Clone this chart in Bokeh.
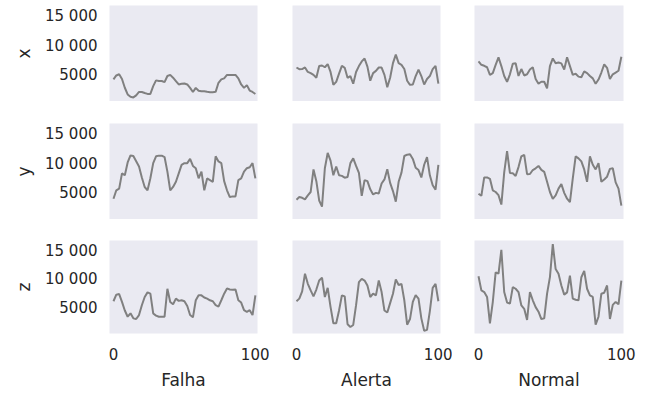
from bokeh.plotting import figure
from bokeh.layouts import gridplot
from bokeh.models import Range1d, FixedTicker
from bokeh.embed import file_html
from bokeh.resources import INLINE

# ---- data -------------------------------------------------------------
t = list(range(0, 101, 2))
columns = ["Falha", "Alerta", "Normal"]
rows = ["x", "y", "z"]

x_falha = [4230, 4900, 5100, 4300, 2800, 1650, 1250, 1150, 1500, 2080, 2080, 1900, 1750, 1750,
           3070, 4060, 3950, 3950, 3770, 4810, 5000, 4520, 3940, 3360, 3480, 3530, 3360, 2780,
           2080, 2780, 2300, 2200, 2200, 2100, 2050, 2050, 2100, 3650, 4230, 4400, 4980, 4980,
           4980, 4980, 4400, 3360, 2780, 3250, 2320, 2080, 1740]
x_alerta = [6260, 5970, 6000, 6260, 5500, 5300, 5000, 4500, 6500, 6600, 6300, 6840, 5500, 3300,
            3800, 5200, 6550, 6200, 4500, 4800, 3480, 5500, 6500, 7300, 7800, 6400, 4000, 5300,
            5680, 6260, 6250, 5000, 2900, 4500, 7000, 8460, 7000, 6700, 6000, 4000, 3300, 3360,
            4800, 5900, 4800, 3360, 4300, 4800, 5970, 6550, 3500]
x_normal = [7300, 6720, 6550, 6300, 5000, 5300, 6700, 8000, 6500, 4800, 3800, 5100, 6900, 7000,
            4810, 6000, 4900, 5100, 5900, 6300, 4300, 3500, 3820, 3820, 2700, 6500, 7800, 7000,
            7100, 6960, 5900, 8000, 6500, 5000, 5200, 4700, 4600, 5600, 5300, 4810, 4400, 3480,
            4200, 5400, 6800, 6200, 4300, 5100, 5400, 5700, 8100]

y_falha = [4000, 5440, 5730, 8340, 8000, 10200, 11400, 11300, 10400, 9500, 7640, 6000, 5440, 7500,
           10080, 11240, 11360, 11360, 11120, 8630, 5440, 6020, 6900, 8340, 9790, 10080, 10080,
           10800, 9600, 9210, 7500, 8630, 5440, 7470, 7180, 6890, 11240, 10370, 10080, 7000, 5440,
           4280, 4400, 4400, 7180, 7470, 8630, 9210, 9380, 10080, 7470]
y_alerta = [3820, 4280, 4160, 3900, 4570, 5150, 9000, 7000, 3700, 2660, 9210, 11820, 10500, 8000,
            9500, 8000, 7900, 7600, 7700, 10080, 10900, 9600, 8400, 4500, 7180, 7000, 5600, 4740,
            5000, 4900, 6600, 7300, 9030, 6700, 5300, 3500, 6890, 8460, 11300, 11530, 11600, 10800,
            9300, 8900, 7640, 9800, 11120, 8000, 6300, 5560, 9790]
y_normal = [4860, 4500, 7640, 7640, 7400, 5440, 5150, 4600, 3000, 8500, 12110, 8400, 8340, 7900,
            9400, 11240, 11500, 8200, 8220, 8900, 9200, 9600, 8920, 8600, 6890, 5150, 3990, 4570,
            5730, 6500, 5000, 4000, 3410, 7470, 11240, 10900, 10370, 9000, 6890, 11240, 9800, 9000,
            10080, 6890, 7300, 7760, 9100, 9200, 6800, 5730, 2830]

z_falha = [6140, 7300, 7400, 6020, 4500, 3410, 4000, 3120, 3000, 3700, 5440, 6890, 7700, 7470,
           3990, 3600, 3410, 3410, 3410, 8340, 6000, 5600, 6600, 6200, 6310, 6140, 5300, 3700,
           3300, 6310, 7200, 7180, 6800, 6600, 6310, 6140, 5440, 5200, 6310, 7470, 8400, 8220,
           8170, 8220, 6310, 5900, 4570, 4280, 4570, 3700, 7180]
z_alerta = [6140, 6600, 7880, 11000, 9210, 8050, 7000, 8200, 9790, 10300, 6890, 8500, 5150, 2250,
            2250, 4500, 7180, 7000, 2080, 1600, 1960, 5440, 9500, 10080, 9790, 8900, 6890, 7470,
            7180, 9790, 7760, 4500, 4160, 5800, 7470, 10000, 9000, 9210, 6310, 2000, 3000, 6020,
            7200, 6600, 3120, 920, 1090, 4400, 8500, 9210, 6140]
z_normal = [10540, 8050, 7760, 6890, 2250, 6000, 11240, 11000, 15200, 7760, 5900, 5730, 8630, 8340,
            7760, 5400, 4800, 2830, 7760, 6310, 5100, 4300, 3000, 3120, 7470, 10400, 16200, 11820,
            11000, 8920, 7300, 7700, 10660, 6600, 6400, 6310, 10370, 11500, 8340, 7180, 6890, 2000,
            3410, 7470, 7640, 8920, 3000, 5500, 6020, 5600, 9790]

series = [[x_falha, x_alerta, x_normal],
          [y_falha, y_alerta, y_normal],
          [z_falha, z_alerta, z_normal]]

y_ticks = [5000, 10000, 15000]
y_tick_labels = {5000: "5000", 10000: "10 000", 15000: "15 000"}
x_ticks = [0, 100]

# ---- styling / layout ---------------------------------------------------
FONT = "DejaVu Sans"
TXT = "#262626"
BG = "#EAEAF2"
FRAME_W = [148, 148, 149]
LEFT = [109, 23, 22]
RIGHT = [12, 12, 14]
FRAME_H = 96
TOP = [5, 22, 21]
BOTTOM = [0, 0, 56]

grid = []
for r in range(3):
    row_figs = []
    for c in range(3):
        p = figure(
            width=LEFT[c] + FRAME_W[c] + RIGHT[c],
            height=TOP[r] + FRAME_H + BOTTOM[r],
            x_range=Range1d(-2.8, 101.5),
            y_range=Range1d(450, 16850),
            x_axis_location="below" if r == 2 else None,
            y_axis_location="left" if c == 0 else None,
            output_backend="svg",
            toolbar_location=None,
            min_border_left=LEFT[c], min_border_right=RIGHT[c],
            min_border_top=TOP[r], min_border_bottom=BOTTOM[r],
        )
        p.background_fill_color = BG
        p.border_fill_color = "white"
        p.outline_line_color = None
        p.grid.visible = False
        p.line(t, series[r][c], line_color="#808080", line_width=2)

        for ax in p.axis:
            ax.axis_line_color = None
            ax.major_tick_line_color = None
            ax.minor_tick_line_color = None
            ax.major_tick_out = 0
            ax.major_tick_in = 0
            ax.major_label_text_font = FONT
            ax.major_label_text_font_size = "15px"
            ax.major_label_text_color = TXT
            ax.axis_label_text_font = FONT
            ax.axis_label_text_font_size = "17px"
            ax.axis_label_text_font_style = "normal"
            ax.axis_label_text_color = TXT
        if c == 0:
            p.yaxis.ticker = FixedTicker(ticks=y_ticks)
            p.yaxis.major_label_overrides = y_tick_labels
            p.yaxis.major_label_standoff = 12
            p.yaxis.axis_label = rows[r]
            p.yaxis.axis_label_standoff = 8
        if r == 2:
            p.xaxis.ticker = FixedTicker(ticks=x_ticks)
            p.xaxis.major_label_standoff = 14
            p.xaxis.axis_label = columns[c]
            p.xaxis.axis_label_standoff = 7
        row_figs.append(p)
    grid.append(row_figs)

layout = gridplot(grid, toolbar_location=None)

open("out.html", "w").write(file_html(layout, INLINE))
